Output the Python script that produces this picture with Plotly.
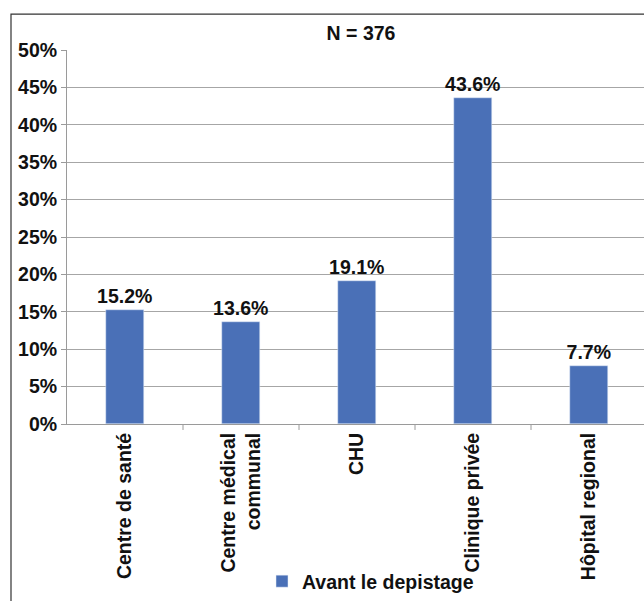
import plotly.graph_objects as go

categories = ["Centre de santé", "Centre médical<br>communal", "CHU", "Clinique privée", "Hôpital regional"]
values = [15.2, 13.6, 19.1, 43.6, 7.7]
labels = ["15.2%", "13.6%", "19.1%", "43.6%", "7.7%"]
series_name = "Avant le depistage"
title_text = "N = 376"
ytick_vals = [0, 5, 10, 15, 20, 25, 30, 35, 40, 45, 50]
ytick_text = ["0%", "5%", "10%", "15%", "20%", "25%", "30%", "35%", "40%", "45%", "50%"]

W, H = 644, 601
L, R, T, B = 67, 644, 50, 426
pw, ph = R - L, B - T
cat_w = 116.0
FS = 19.5

font = "Arial, Liberation Sans, sans-serif"
fig = go.Figure()
fig.add_trace(go.Bar(
    x=list(range(len(categories))), y=values, name="<b>" + series_name + "</b>",
    marker=dict(color="#4A70B7"), width=0.32,
    text=labels, texttemplate="<b>%{text}</b>", textposition="outside",
    constraintext="none", cliponaxis=False,
    textfont=dict(family=font, size=FS, color="#111111"),
    showlegend=True,
))

fig.update_layout(
    width=W, height=H,
    margin=dict(l=L, r=W - R, t=T, b=H - B, pad=0),
    paper_bgcolor="white", plot_bgcolor="white",
    font=dict(family=font, size=FS, color="#111111"),
    bargap=0,
    title=dict(text="<b>" + title_text + "</b>", x=(361 - L) / pw, xref="paper", xanchor="center",
               y=1 - 33 / H, yanchor="middle", font=dict(size=FS, family=font)),
    legend=dict(orientation="h", x=(262 - L) / pw, xanchor="left",
                y=(B - 585) / ph, yanchor="middle",
                font=dict(family=font, size=FS, color="#111111"),
                itemwidth=30, traceorder="normal", bgcolor="rgba(0,0,0,0)"),
    xaxis=dict(
        range=[-0.5, -0.5 + pw / cat_w],
        tickmode="array", tickvals=list(range(len(categories))),
        ticktext=["<b>" + c.replace("<br>", "</b><br><b>") + "</b>" for c in categories],
        tickangle=-90, ticks="", showgrid=False, showline=True,
        linecolor="#9a9a9a", linewidth=1, zeroline=False,
        tickfont=dict(family=font, size=FS, color="#111111"),
    ),
    yaxis=dict(
        range=[0, 50], tickmode="array", tickvals=ytick_vals,
        ticktext=["<b>" + t + "</b>" for t in ytick_text],
        ticks="outside", ticklen=5, tickcolor="#9a9a9a",
        showgrid=True, gridcolor="#a6a6a6", gridwidth=1,
        showline=True, linecolor="#9a9a9a", linewidth=1, zeroline=False,
        tickfont=dict(family=font, size=FS, color="#111111"),
    ),
)

# category separator ticks on the x axis
for k in range(1, 5):
    fig.add_shape(type="line", xref="x", yref="paper", x0=k - 0.5, x1=k - 0.5,
                  y0=0, y1=-6 / ph, line=dict(color="#9a9a9a", width=1))

# outer chart border
fig.add_shape(type="rect", xref="paper", yref="paper",
              x0=(11 - L) / pw, x1=(W + 5 - L) / pw,
              y0=(B - H - 5) / ph, y1=(B - 14) / ph,
              line=dict(color="#333333", width=1.2), fillcolor="rgba(0,0,0,0)", layer="below")

fig.write_html("out.html")
